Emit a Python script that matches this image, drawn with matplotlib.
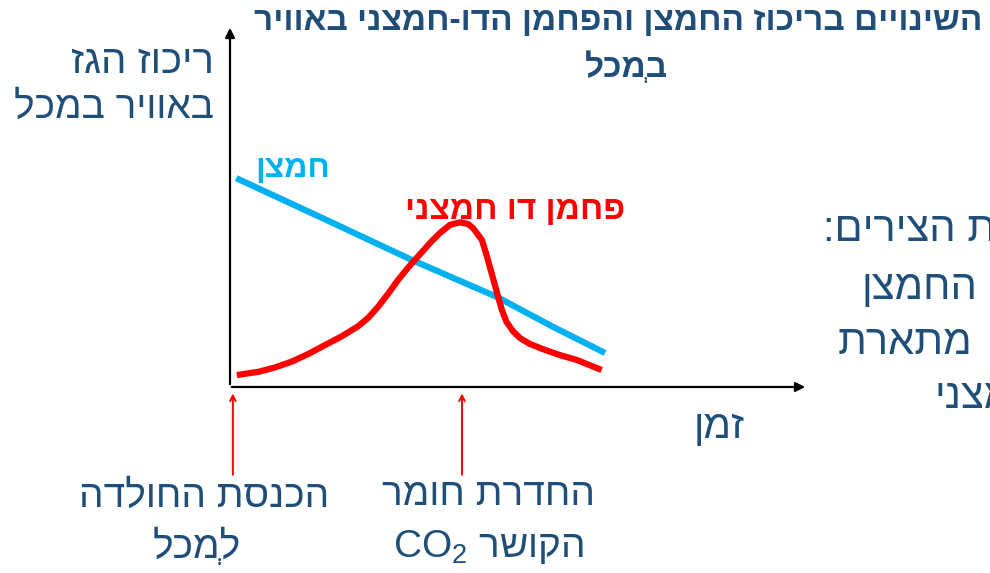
import unicodedata
import matplotlib
matplotlib.use('Agg')
import matplotlib.pyplot as plt

plt.rcParams['font.family'] = ['Liberation Sans', 'DejaVu Sans']
plt.rcParams['mathtext.fontset'] = 'custom'
plt.rcParams['mathtext.rm'] = 'Liberation Sans'
plt.rcParams['mathtext.it'] = 'Liberation Sans'

# data (time 0-10, concentration 0-10)
oxygen_t = [0.11, 1.67, 3.19, 4.68, 5.67, 6.58]
oxygen_c = [5.77, 4.63, 3.51, 2.49, 1.66, 0.94]

co2_t = [0.12, 0.50, 0.79, 1.08, 1.37, 1.67, 1.96, 2.25, 2.43, 2.60, 2.78, 2.95,
         3.13, 3.33, 3.51, 3.68, 3.86, 4.04, 4.18, 4.27, 4.42, 4.50, 4.59, 4.68,
         4.77, 4.85, 4.97, 5.09, 5.26, 5.50, 5.79, 6.08, 6.52]
co2_c = [0.33, 0.42, 0.54, 0.70, 0.91, 1.16, 1.40, 1.68, 1.92, 2.22, 2.59, 2.96,
         3.31, 3.66, 3.98, 4.25, 4.48, 4.55, 4.50, 4.38, 4.06, 3.65, 3.14, 2.63,
         2.13, 1.80, 1.53, 1.35, 1.19, 1.04, 0.88, 0.75, 0.47]

events_t = [0.05, 4.07]

title_lines = ['השינויים בריכוז החמצן והפחמן הדו-חמצני באוויר', 'במְכל']
ylabel_lines = ['ריכוז הגז', 'באוויר במכל']
xlabel = 'זמן'
oxygen_label = 'חמצן'
co2_label = 'פחמן דו חמצני'
event1_lines = ['הכנסת החולדה', 'למְכל']
event2_lines = ['החדרת חומר', 'הקושר']
side_lines = ['ת הצירים:', 'החמצן', 'מתארת', 'מצני']

DARK = '#1F4E79'
BLUE = '#00B0F0'
RED = '#FF0000'


def rtl(s):
    # matplotlib has no bidi: reverse clusters (letter + its points)
    clusters = []
    for ch in s:
        if unicodedata.combining(ch) and clusters:
            clusters[-1] += ch
        else:
            clusters.append(ch)
    return ''.join(reversed(clusters))


fig = plt.figure(figsize=(9.9, 5.73), dpi=100)
W, H = 990, 573


def fx(px):
    return px / W


def fy(py):
    return 1 - py / H


ax = fig.add_axes([fx(230), fy(387), fx(800) - fx(230), fy(25) - fy(387)])
ax.set_xlim(0, 10)
ax.set_ylim(0, 10)
ax.axis('off')

ax.plot(oxygen_t, oxygen_c, color=BLUE, lw=4.5, solid_capstyle='butt')
ax.plot(co2_t, co2_c, color=RED, lw=4.5, solid_capstyle='butt', solid_joinstyle='round')

# axes arrows
ax.annotate('', xy=(0, 1.0), xytext=(0, 0), xycoords='axes fraction',
            arrowprops=dict(arrowstyle='-|>', color='black', lw=1.6, mutation_scale=14))
ax.annotate('', xy=(fx(808), fy(387)), xytext=(fx(229), fy(387)), xycoords='figure fraction',
            arrowprops=dict(arrowstyle='-|>', color='black', lw=1.6, mutation_scale=14))

# red event arrows
for t in events_t:
    ax.annotate('', xy=(t, -0.1), xytext=(t, -2.5), xycoords='data',
                arrowprops=dict(arrowstyle='->', color=RED, lw=1.4, mutation_scale=10),
                annotation_clip=False)

# curve labels
ax.text(1.1, 6.02, rtl(oxygen_label), color=BLUE, fontsize=23, fontweight='bold',
        ha='center', va='center')
ax.text(5.00, 4.88, rtl(co2_label), color=RED, fontsize=24, fontweight='bold',
        ha='center', va='center')

# title
fig.text(fx(618), fy(22), rtl(title_lines[0]), color=DARK, fontsize=24, fontweight='bold',
         ha='center', va='center')
fig.text(fx(626), fy(68), rtl(title_lines[1]), color=DARK, fontsize=24, fontweight='bold',
         ha='center', va='center')

# y label
fig.text(fx(214), fy(62), rtl(ylabel_lines[0]), color=DARK, fontsize=29, ha='right', va='center')
fig.text(fx(214), fy(108), rtl(ylabel_lines[1]), color=DARK, fontsize=28, ha='right', va='center')

# x label
fig.text(fx(719), fy(427), rtl(xlabel), color=DARK, fontsize=29, ha='center', va='center')

# event labels
fig.text(fx(204), fy(497), rtl(event1_lines[0]), color=DARK, fontsize=28, ha='center', va='center')
fig.text(fx(197), fy(547), rtl(event1_lines[1]), color=DARK, fontsize=28, ha='center', va='center')
fig.text(fx(488), fy(495), rtl(event2_lines[0]), color=DARK, fontsize=28, ha='center', va='center')
fig.text(fx(489), fy(547), 'CO$_2$ ' + rtl(event2_lines[1]), color=DARK, fontsize=28,
         ha='center', va='center')

# side text, cut off at the right edge as in the slide
fig.text(fx(823), fy(230), rtl(side_lines[0]), color=DARK, fontsize=30, ha='left', va='center')
fig.text(fx(977), fy(288), rtl(side_lines[1]), color=DARK, fontsize=30, ha='right', va='center')
fig.text(fx(972), fy(343), rtl(side_lines[2]), color=DARK, fontsize=30, ha='right', va='center')
fig.text(fx(935), fy(397), rtl(side_lines[3]), color=DARK, fontsize=30, ha='left', va='center')

fig.savefig('out.png', dpi=100)
